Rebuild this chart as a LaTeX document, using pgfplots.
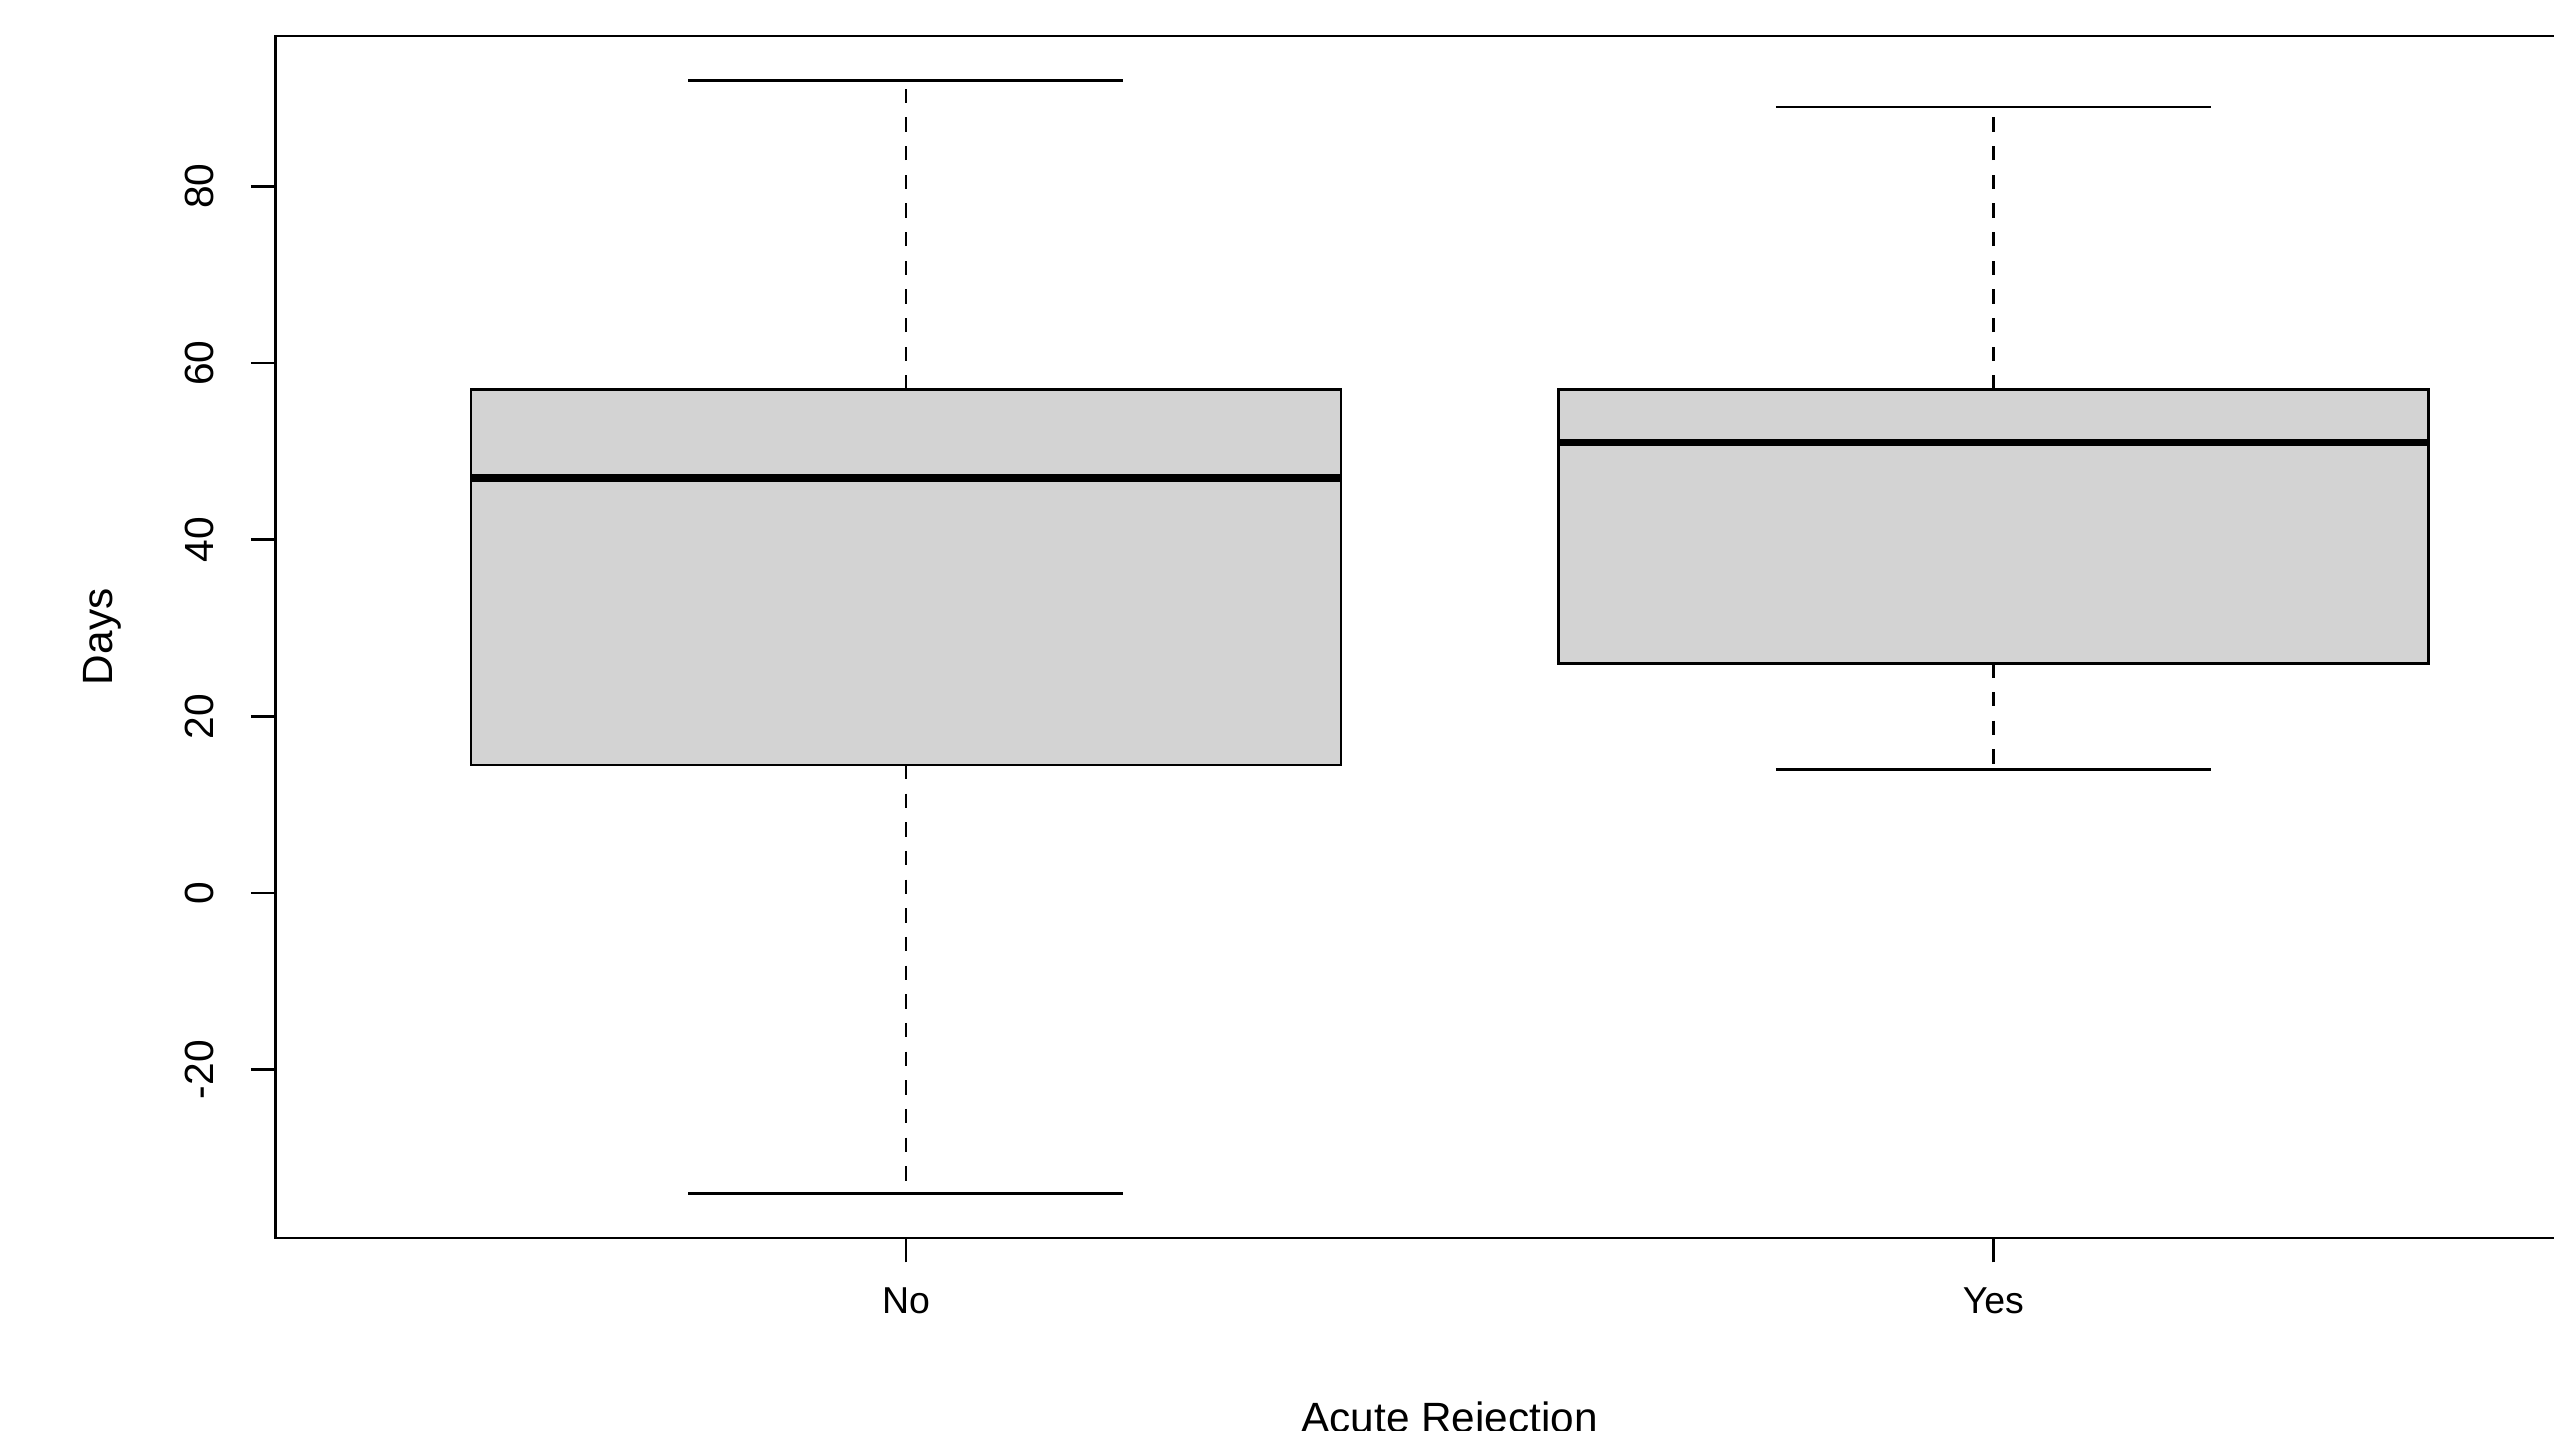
\documentclass[border=0pt]{standalone}
\usepackage{fontspec}
\setmainfont{Liberation Sans}
\usepackage{pgfplots}
\pgfplotsset{compat=1.18}
\definecolor{boxgray}{RGB}{211,211,211}
\begin{document}
\begin{tikzpicture}
\useasboundingbox (0,0) rectangle (784pt,439pt);
\clip (0,0) rectangle (784pt,439pt);
\begin{axis}[
 at={(84.5pt,59pt)}, anchor=south west, scale only axis,
 width=721pt, height=369pt,
 xmin=0.42, xmax=2.58, ymin=-39.04, ymax=97.04,
 axis line style={line width=0.8pt, black},
 tick pos=left, tick align=outside, major tick length=7.5pt,
 every tick/.style={black, line width=0.8pt},
 xtick={1,2}, xticklabels={No,Yes},
 ytick={-20,0,20,40,60,80}, yticklabels={-20,0,20,40,60,80},
 xticklabel style={font=\fontsize{11.5}{13}\selectfont, inner sep=0pt, anchor=north, yshift=-7.5pt},
 yticklabel style={font=\fontsize{12.5}{14}\selectfont, inner sep=0pt, xshift=-11.5pt, rotate=90, anchor=base},
 xlabel={Acute Rejection}, ylabel={Days},
 every axis x label/.style={at={(axis description cs:0.5,-0.1355)}, anchor=north, inner sep=0pt, font=\fontsize{13}{15}\selectfont},
 every axis y label/.style={at={(axis description cs:-0.0693,0.5)}, rotate=90, anchor=base, inner sep=0pt, font=\fontsize{13}{15}\selectfont},
]
% Group "No"
\addplot[black, line width=0.8pt, dash pattern=on 4.4pt off 4.4pt] coordinates {(1,57) (1,92)};
\addplot[black, line width=0.8pt, dash pattern=on 4.4pt off 4.4pt] coordinates {(1,14.5) (1,-34)};
\addplot[black, line width=0.8pt] coordinates {(0.8,92) (1.2,92)};
\addplot[black, line width=0.8pt] coordinates {(0.8,-34) (1.2,-34)};
\addplot[fill=boxgray, draw=black, line width=0.8pt] coordinates {(0.6,14.5) (1.4,14.5) (1.4,57) (0.6,57)} -- cycle;
\addplot[black, line width=2.4pt] coordinates {(0.6,47) (1.4,47)};
% Group "Yes"
\addplot[black, line width=0.8pt, dash pattern=on 4.4pt off 4.4pt] coordinates {(2,57) (2,89)};
\addplot[black, line width=0.8pt, dash pattern=on 4.4pt off 4.4pt] coordinates {(2,26) (2,14)};
\addplot[black, line width=0.8pt] coordinates {(1.8,89) (2.2,89)};
\addplot[black, line width=0.8pt] coordinates {(1.8,14) (2.2,14)};
\addplot[fill=boxgray, draw=black, line width=0.8pt] coordinates {(1.6,26) (2.4,26) (2.4,57) (1.6,57)} -- cycle;
\addplot[black, line width=2.4pt] coordinates {(1.6,51) (2.4,51)};
% axis lines drawn by R's axis() over the frame
\addplot[black, line width=0.8pt] coordinates {(1,-39.04) (2.58,-39.04)};
\end{axis}
\end{tikzpicture}
\end{document}
